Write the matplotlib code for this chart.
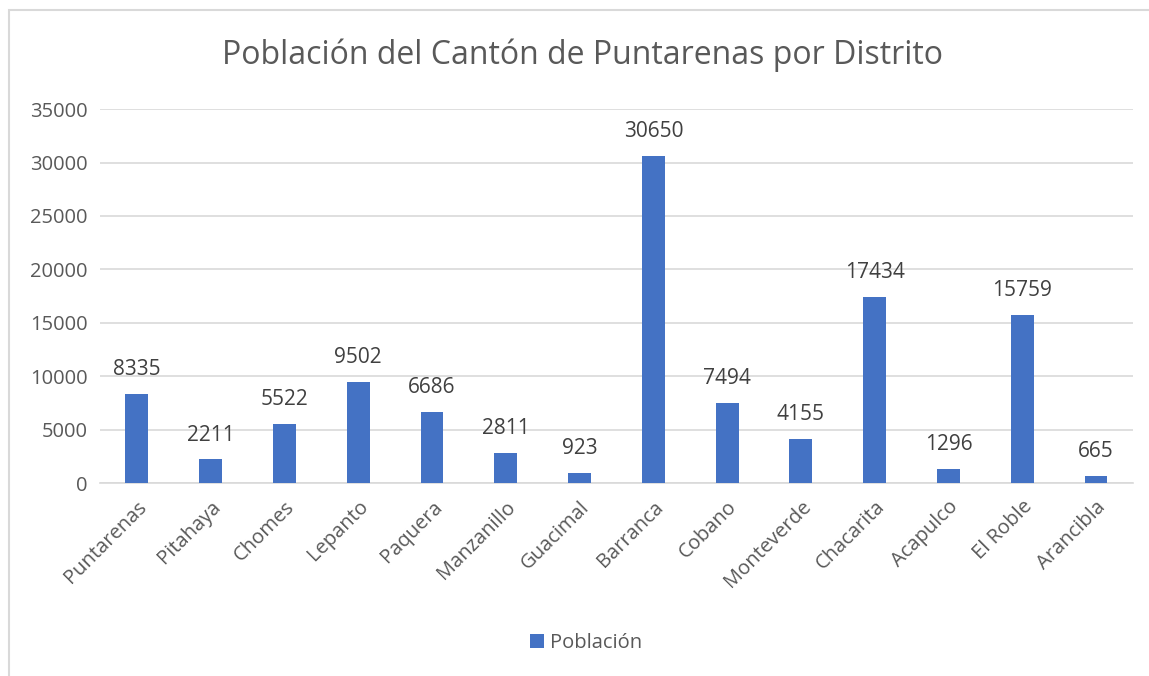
import matplotlib.pyplot as plt
from matplotlib.patches import Rectangle

distritos = ['Puntarenas', 'Pitahaya', 'Chomes', 'Lepanto', 'Paquera', 'Manzanillo',
             'Guacimal', 'Barranca', 'Cobano', 'Monteverde', 'Chacarita', 'Acapulco',
             'El Roble', 'Arancibla']
poblacion = [8335, 2211, 5522, 9502, 6686, 2811, 923, 30650, 7494, 4155, 17434, 1296, 15759, 665]
yticks = [0, 5000, 10000, 15000, 20000, 25000, 30000, 35000]

plt.rcParams['font.family'] = ['Open Sans', 'DejaVu Sans']
gris = '#595959'

fig = plt.figure(figsize=(11.49, 6.76), dpi=100)
ax = fig.add_axes([0.087, 0.2855, 0.899, 0.553])

# borde del gráfico
fig.patches.append(Rectangle((9 / 1149, -0.05), 1.1, 1 - 10 / 676 + 0.05,
                             transform=fig.transFigure, fill=False,
                             edgecolor='#D9D9D9', linewidth=1.5))

x = range(len(distritos))
barras = ax.bar(x, poblacion, width=0.31, color='#4472C4', label='Población', zorder=3)
for xi, v in zip(x, poblacion):
    ax.text(xi, v + 1300, str(v), ha='center', va='bottom', fontsize=15, color='#404040')

ax.set_xlim(-0.5, len(distritos) - 0.5)
ax.set_ylim(0, 35000)
ax.set_yticks(yticks)
ax.set_yticklabels([str(t) for t in yticks], fontsize=14.5, color=gris)
ax.set_xticks(list(x))
ax.set_xticklabels(distritos, rotation=45, ha='right', rotation_mode='anchor',
                   fontsize=14.5, color=gris)
ax.tick_params(axis='x', length=0, pad=10)
ax.tick_params(axis='y', length=0, pad=9)
ax.grid(axis='y', color='#D9D9D9', linewidth=1.2, zorder=0)
for s in ['top', 'right', 'left']:
    ax.spines[s].set_visible(False)
ax.spines['bottom'].set_color('#D9D9D9')
ax.spines['bottom'].set_linewidth(1.2)

fig.text(0.507, 0.918, 'Población del Cantón de Puntarenas por Distrito',
         ha='center', va='center', fontsize=23, color=gris)

fig.legend(handles=[barras], loc='center', bbox_to_anchor=(0.51, 0.049), frameon=False,
           fontsize=14.5, handlelength=0.7, handleheight=0.7, handletextpad=0.3,
           labelcolor=gris)

fig.savefig('out.png', dpi=100)
